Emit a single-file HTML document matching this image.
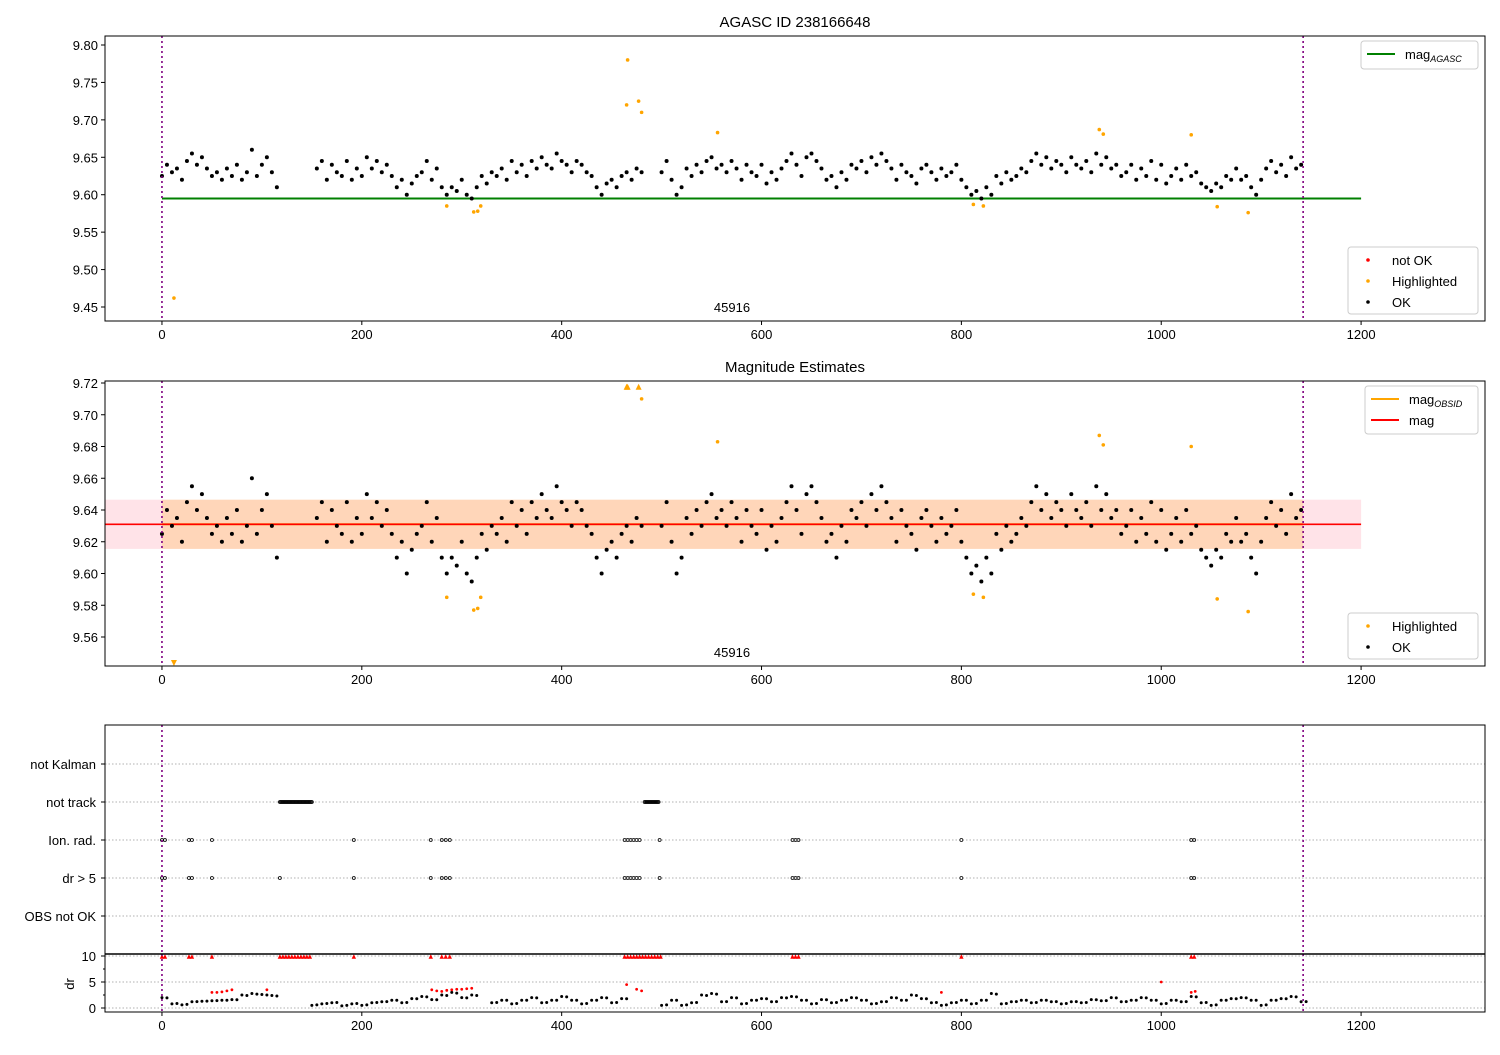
<!DOCTYPE html>
<html><head><meta charset="utf-8"><style>
body{margin:0;background:#fff;font-family:"Liberation Sans","DejaVu Sans",sans-serif}
svg text{font-family:"Liberation Sans","DejaVu Sans",sans-serif}
</style></head><body>
<svg id="chart" width="1500" height="1050" xmlns="http://www.w3.org/2000/svg"></svg>
<script>
// ---- data ----
const magStep = 5;
const mags = [9.625,9.64,9.63,9.635,9.62,9.645,9.655,9.64,9.65,9.635,9.625,9.63,9.62,9.635,9.625,9.64,9.62,9.63,9.66,9.625,9.64,9.65,9.63,9.61,
null,null,null,null,null,null,null,
9.635,9.645,9.62,9.64,9.63,9.625,9.645,9.62,9.635,9.625,9.65,9.635,9.645,9.63,9.64,9.625,9.61,9.62,9.6,9.615,9.625,9.63,9.645,9.62,9.635,9.61,9.6,9.61,9.605,9.62,9.6,9.595,9.61,9.625,9.615,9.63,9.625,9.635,9.62,9.645,9.63,9.64,9.625,9.645,9.635,9.65,9.64,9.635,9.655,9.645,9.64,9.63,9.645,9.64,9.63,9.625,9.61,9.6,9.615,9.62,9.61,9.625,9.63,9.62,9.635,9.63,
null,null,null,
9.63,9.645,9.62,9.6,9.61,9.635,9.625,9.64,9.63,9.645,9.65,9.635,9.64,9.63,9.645,9.635,9.62,9.64,9.63,9.625,9.64,9.615,9.63,9.62,9.635,9.645,9.655,9.64,9.625,9.65,9.655,9.645,9.635,9.62,9.625,9.61,9.63,9.62,9.64,9.635,9.645,9.63,9.65,9.64,9.655,9.645,9.635,9.62,9.64,9.63,9.625,9.615,9.635,9.64,9.63,9.62,9.635,9.625,9.63,9.64,9.62,9.61,9.6,9.605,9.595,9.61,9.6,9.625,9.615,9.63,9.62,9.625,9.635,9.63,9.645,9.655,9.64,9.65,9.635,9.645,9.64,9.63,9.65,9.64,9.635,9.645,9.63,9.655,9.64,9.65,9.635,9.64,9.625,9.63,9.64,9.62,9.635,9.625,9.645,9.62,9.64,9.615,9.625,9.635,9.62,9.64,9.625,9.63,9.615,9.61,9.605,9.615,9.61,9.625,9.62,9.635,9.62,9.625,9.61,9.6,9.62,9.635,9.645,9.63,9.64,9.625,9.65,9.635,9.64];
const hiTimes = [12,285,312,316,319,465,466,477,480,556,812,822,938,942,1030,1056,1087];
const hiMags  = [9.462,9.585,9.577,9.578,9.585,9.72,9.78,9.725,9.71,9.683,9.587,9.585,9.687,9.681,9.68,9.584,9.576];
const magAgasc = 9.595, magObs = 9.631, magStd = 0.0155;
const tStart = 0, tEnd = 1142;
const flagRows = ['not Kalman','not track','Ion. rad.','dr > 5','OBS not OK'];
const notTrackTimes = [118,121,124,127,130,133,136,139,142,145,148,483,486,489,492,495];
const ionTimes = [0,3,27,30,50,192,269,280,284,288,463,466,469,472,475,478,498,631,634,637,800,1030,1033];
const dr5Times = [0,3,27,30,50,118,192,269,280,284,288,463,466,469,472,475,478,498,631,634,637,800,1030,1033];
const drStep = 10;
const drVals = [2,0.8,0.6,1.2,1.3,1.4,1.5,1.6,2.5,2.8,2.6,2.4,null,null,null,0.5,0.8,1.0,0.4,0.8,0.5,1.0,1.2,1.5,1.0,1.8,2.2,1.6,2.5,3.0,2.0,2.5,null,1.0,1.5,0.8,1.5,2.0,1.0,1.5,2.2,1.5,0.8,1.5,2.0,1.0,1.8,null,null,null,0.5,1.5,0.5,1.0,2.5,2.8,1.2,2.0,0.8,1.5,1.8,1.2,2.0,2.2,1.5,0.8,1.6,1.0,1.5,2.0,1.5,0.8,1.2,2.0,1.5,2.5,1.8,1.0,0.5,1.0,1.5,0.8,1.5,2.8,0.8,1.2,1.5,1.0,1.5,1.2,0.8,1.2,1.0,1.6,1.4,2.0,1.2,1.5,2.0,1.5,0.8,1.5,1.2,2.2,1.0,0.5,1.5,1.8,2.0,1.5,0.5,1.5,1.8,2.2,1.2];
const drRedTimes = [50,55,60,65,70,105,270,275,280,285,290,295,300,305,310,465,475,480,780,1000,1030,1034];
const drRedVals  = [3,3,3.1,3.3,3.5,3.5,3.5,3.3,3.2,3.4,3.5,3.6,3.6,3.7,3.8,4.5,3.6,3.3,3,5,3,3.2];
const drTopTimes = [0,3,27,30,50,118,121,124,127,130,133,136,139,142,145,148,192,269,280,284,288,463,466,469,472,475,478,481,484,487,490,493,496,499,631,634,637,800,1030,1033];
const xTicks=[0,200,400,600,800,1000,1200];
const y1Ticks=[9.45,9.50,9.55,9.60,9.65,9.70,9.75,9.80];
const y2Ticks=[9.56,9.58,9.60,9.62,9.64,9.66,9.68,9.70,9.72];
const drTicks=[0,5,10];

// ---- helpers ----
const svg=document.getElementById('chart');const NS='http://www.w3.org/2000/svg';
function el(t,a,p){const e=document.createElementNS(NS,t);for(const k in a)e.setAttribute(k,a[k]);(p||svg).appendChild(e);return e;}
const L=105,R=1485;
const X=t=>L+(t+57)*(R-L)/1381;
function yLin(v0,p0,v1,p1){return v=>p0+(v-v0)*(p1-p0)/(v1-v0);}
const Y1=yLin(9.45,307,9.80,45), Y2=yLin(9.56,637,9.72,383), YD=yLin(0,1008,10,956);
const rowY=i=>764+i*38;
function txt(x,y,s,anchor,size,name,p){const t=el('text',{x:x,y:y,'text-anchor':anchor||'middle','font-size':size||13,fill:'#000'},p);t.textContent=s;return t;}
function xAxis(yb,g,labels){xTicks.forEach(v=>{el('line',{x1:X(v),x2:X(v),y1:yb,y2:yb+4,stroke:'#000'},g);if(labels)txt(X(v),yb+18,String(v),'middle',13,'x-tick-label',g);});}
function frame(t,b,name){const g=el('g',{});return g;}
function box(t,b,g){el('rect',{x:L,y:t,width:R-L,height:b-t,fill:'none',stroke:'#000','stroke-width':1},g);}
function vlines(t,b,g){[tStart,tEnd].forEach(v=>el('line',{x1:X(v),x2:X(v),y1:t,y2:b,stroke:'purple','stroke-width':1.6,'stroke-dasharray':'2,3'},g));}
function dot(x,y,c,r,g,name){const d=el('circle',{cx:x,cy:y,r:r||1.6,fill:c},g);}
function tri(x,y,c,g,down,name,s){s=s||4;const p=down?`${x-s},${y-s} ${x+s},${y-s} ${x},${y+s}`:`${x-s},${y+s} ${x+s},${y+s} ${x},${y-s}`;const d=el('polygon',{points:p,fill:c},g);}
function legend(x,y,w,h,items,g,name){const lg=el('g',{},g);el('rect',{x:x,y:y,width:w,height:h,rx:3,fill:'#fff',stroke:'#ccc'},lg);items.forEach((it,i)=>{const cy=y+13+i*21;if(it.line)el('line',{x1:x+6,x2:x+34,y1:cy,y2:cy,stroke:it.c,'stroke-width':2},lg);else el('circle',{cx:x+20,cy:cy,r:1.8,fill:it.c},lg);const t=txt(x+44,cy+5,'','start',13,'legend-entry',lg);t.innerHTML=it.label;});}

// ---- title ----
txt(795,27,'AGASC ID 238166648','middle',15,'chart-title');

// ---- panel 1 ----
const g1=frame(36,321,'panel-agasc');
el('line',{x1:X(0),x2:X(1200),y1:Y1(magAgasc),y2:Y1(magAgasc),stroke:'green','stroke-width':2},g1);
mags.forEach((m,i)=>{if(m!==null)dot(X(i*magStep),Y1(m),'#000',2,g1,'ok-point');});
hiTimes.forEach((t,i)=>dot(X(t),Y1(hiMags[i]),'orange',1.8,g1,'highlighted-point'));
vlines(36,321,g1);box(36,321,g1);xAxis(321,g1,true);
y1Ticks.forEach(v=>{el('line',{x1:L-4,x2:L,y1:Y1(v),y2:Y1(v),stroke:'#000'},g1);txt(L-7,Y1(v)+5,v.toFixed(2),'end',13,'y-tick-label',g1);});
txt(732,312,'45916','middle',13,'obsid-label',g1);
legend(1361,41,117,28,[{line:1,c:'green',label:'mag<tspan font-size="9" font-style="italic" dy="3">AGASC</tspan>'}],g1,'legend-agasc');
legend(1348,247,130,67,[{c:'red',label:'not OK'},{c:'orange',label:'Highlighted'},{c:'#000',label:'OK'}],g1,'legend-points-1');

// ---- panel 2 ----
txt(795,372,'Magnitude Estimates','middle',15,'panel2-title');
const g2=frame(381,666,'panel-estimates');
el('rect',{x:L,y:Y2(magObs+magStd),width:X(1200)-L,height:Y2(magObs-magStd)-Y2(magObs+magStd),fill:'#ffc0cb',opacity:0.45},g2);
el('rect',{x:X(tStart),y:Y2(magObs+magStd),width:X(tEnd)-X(tStart),height:Y2(magObs-magStd)-Y2(magObs+magStd),fill:'#ffa500',opacity:0.2},g2);
el('line',{x1:X(tStart),x2:X(tEnd),y1:Y2(magObs),y2:Y2(magObs),stroke:'orange','stroke-width':2},g2);
el('line',{x1:L,x2:X(1200),y1:Y2(magObs),y2:Y2(magObs),stroke:'red','stroke-width':1.6},g2);
mags.forEach((m,i)=>{if(m!==null)dot(X(i*magStep),Y2(m),'#000',2,g2,'ok-point');});
hiTimes.forEach((t,i)=>{const m=hiMags[i];if(m>=9.7195)tri(X(t),Y2(9.7195)+3,'orange',g2,false,'clipped-point',3);else if(m<9.5417)tri(X(t),663,'orange',g2,true,'clipped-point',3);else dot(X(t),Y2(m),'orange',1.8,g2,'highlighted-point');});
vlines(381,666,g2);box(381,666,g2);xAxis(666,g2,true);
y2Ticks.forEach(v=>{el('line',{x1:L-4,x2:L,y1:Y2(v),y2:Y2(v),stroke:'#000'},g2);txt(L-7,Y2(v)+5,v.toFixed(2),'end',13,'y-tick-label',g2);});
txt(732,657,'45916','middle',13,'obsid-label',g2);
legend(1365,386,113,48,[{line:1,c:'orange',label:'mag<tspan font-size="9" font-style="italic" dy="3">OBSID</tspan>'},{line:1,c:'red',label:'mag'}],g2,'legend-mags');
legend(1348,613,130,46,[{c:'orange',label:'Highlighted'},{c:'#000',label:'OK'}],g2,'legend-points-2');

// ---- panel 3 flags ----
const g3=frame(725,954,'panel-flags');
flagRows.forEach((r,i)=>{el('line',{x1:L,x2:R,y1:rowY(i),y2:rowY(i),stroke:'#b0b0b0','stroke-dasharray':'1.5,2'},g3);el('line',{x1:L-4,x2:L,y1:rowY(i),y2:rowY(i),stroke:'#000'},g3);txt(L-9,rowY(i)+5,r,'end',13,'flag-row-label',g3);});
notTrackTimes.forEach(t=>{for(let k=0;k<3;k++)el('circle',{cx:X(t+k),cy:rowY(1),r:1.5,fill:'none',stroke:'#000','stroke-width':0.8},g3);});
ionTimes.forEach(t=>el('circle',{cx:X(t),cy:rowY(2),r:1.5,fill:'none',stroke:'#000','stroke-width':0.8},g3));
dr5Times.forEach(t=>el('circle',{cx:X(t),cy:rowY(3),r:1.5,fill:'none',stroke:'#000','stroke-width':0.8},g3));
vlines(725,954,g3);box(725,954,g3);

// ---- panel 4 dr ----
const g4=frame(954,1012,'panel-dr');
[0,2.5,5,7.5,10].forEach(v=>{if(v%5===0)el('line',{x1:L,x2:R,y1:YD(v),y2:YD(v),stroke:'#b0b0b0','stroke-dasharray':'1.5,2'},g4);el('line',{x1:L-(v%5===0?4:2),x2:L,y1:YD(v),y2:YD(v),stroke:'#000'},g4);});
drTicks.forEach(v=>txt(L-9,YD(v)+5,String(v),'end',13,'dr-tick-label',g4));
drVals.forEach((d,i)=>{if(d!==null){dot(X(i*drStep),YD(d),'#000',1.5,g4,'dr-point');dot(X(i*drStep+5),YD(d*0.9+0.15),'#000',1.5,g4,'dr-point');}});
drRedTimes.forEach((t,i)=>dot(X(t),YD(drRedVals[i]),'red',1.4,g4,'dr-bad-point'));
drTopTimes.forEach(t=>tri(X(t),YD(10)+0.5,'red',g4,false,'dr-clipped-point',2.2));
vlines(954,1012,g4);
el('rect',{x:L,y:954,width:R-L,height:58,fill:'none',stroke:'#000'},g4);
el('line',{x1:L,x2:R,y1:954,y2:954,stroke:'#000','stroke-width':1.5},g4);
xAxis(1012,g4,true);
const yl=txt(70,988,'dr','middle',13,'dr-axis-title',g4);yl.setAttribute('transform','rotate(-90 70 984)');
</script>
</body></html>
